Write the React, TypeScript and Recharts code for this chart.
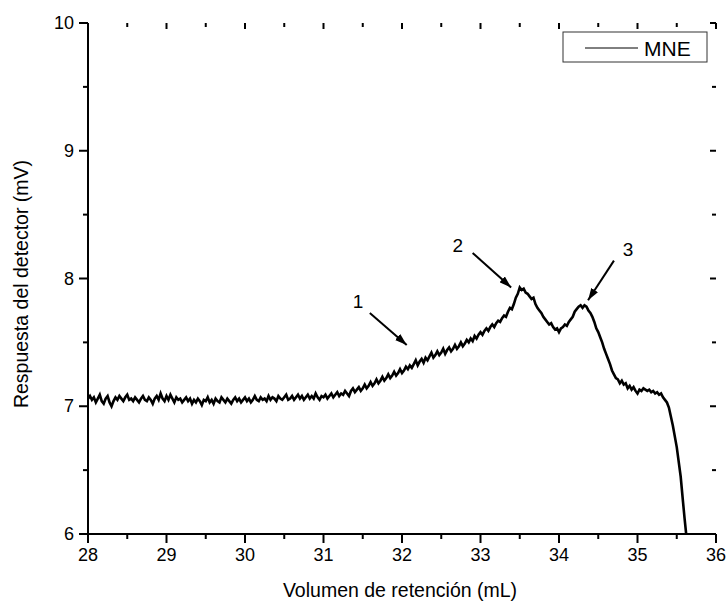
import React from 'react';
import {
  LineChart,
  Line,
  XAxis,
  YAxis,
  ReferenceLine,
  ReferenceDot,
  Customized,
} from 'recharts';

const volumes = [
  28.0, 28.025, 28.05, 28.075, 28.1, 28.125, 28.15, 28.175, 28.2, 28.225,
  28.25, 28.275, 28.3, 28.325, 28.35, 28.375, 28.4, 28.425, 28.45, 28.475,
  28.5, 28.525, 28.55, 28.575, 28.6, 28.625, 28.65, 28.675, 28.7, 28.725,
  28.75, 28.775, 28.8, 28.825, 28.85, 28.875, 28.9, 28.925, 28.95, 28.975,
  29.0, 29.025, 29.05, 29.075, 29.1, 29.125, 29.15, 29.175, 29.2, 29.225,
  29.25, 29.275, 29.3, 29.325, 29.35, 29.375, 29.4, 29.425, 29.45, 29.475,
  29.5, 29.525, 29.55, 29.575, 29.6, 29.625, 29.65, 29.675, 29.7, 29.725,
  29.75, 29.775, 29.8, 29.825, 29.85, 29.875, 29.9, 29.925, 29.95, 29.975,
  30.0, 30.025, 30.05, 30.075, 30.1, 30.125, 30.15, 30.175, 30.2, 30.225,
  30.25, 30.275, 30.3, 30.325, 30.35, 30.375, 30.4, 30.425, 30.45, 30.475,
  30.5, 30.525, 30.55, 30.575, 30.6, 30.625, 30.65, 30.675, 30.7, 30.725,
  30.75, 30.775, 30.8, 30.825, 30.85, 30.875, 30.9, 30.925, 30.95, 30.975,
  31.0, 31.025, 31.05, 31.075, 31.1, 31.125, 31.15, 31.175, 31.2, 31.225,
  31.25, 31.275, 31.3, 31.325, 31.35, 31.375, 31.4, 31.425, 31.45, 31.475,
  31.5, 31.525, 31.55, 31.575, 31.6, 31.625, 31.65, 31.675, 31.7, 31.725,
  31.75, 31.775, 31.8, 31.825, 31.85, 31.875, 31.9, 31.925, 31.95, 31.975,
  32.0, 32.025, 32.05, 32.075, 32.1, 32.125, 32.15, 32.175, 32.2, 32.225,
  32.25, 32.275, 32.3, 32.325, 32.35, 32.375, 32.4, 32.425, 32.45, 32.475,
  32.5, 32.525, 32.55, 32.575, 32.6, 32.625, 32.65, 32.675, 32.7, 32.725,
  32.75, 32.775, 32.8, 32.825, 32.85, 32.875, 32.9, 32.925, 32.95, 32.975,
  33.0, 33.025, 33.05, 33.075, 33.1, 33.125, 33.15, 33.175, 33.2, 33.225,
  33.25, 33.275, 33.3, 33.325, 33.35, 33.375, 33.4, 33.425, 33.45, 33.475,
  33.5, 33.525, 33.55, 33.575, 33.6, 33.625, 33.65, 33.675, 33.7, 33.725,
  33.75, 33.775, 33.8, 33.825, 33.85, 33.875, 33.9, 33.925, 33.95, 33.975,
  34.0, 34.025, 34.05, 34.075, 34.1, 34.125, 34.15, 34.175, 34.2, 34.225,
  34.25, 34.275, 34.3, 34.325, 34.35, 34.375, 34.4, 34.425, 34.45, 34.475,
  34.5, 34.525, 34.55, 34.575, 34.6, 34.625, 34.65, 34.675, 34.7, 34.725,
  34.75, 34.775, 34.8, 34.825, 34.85, 34.875, 34.9, 34.925, 34.95, 34.975,
  35.0, 35.025, 35.05, 35.075, 35.1, 35.125, 35.15, 35.175, 35.2, 35.225,
  35.25, 35.275, 35.3, 35.325, 35.35, 35.375, 35.4, 35.45, 35.5, 35.55,
  35.58, 35.6, 35.62,
];

const response = [
  7.06, 7.08, 7.05, 7.07, 7.03, 7.06, 7.09, 7.04, 7.02, 7.06,
  7.08, 7.03, 7.0, 7.04, 7.07, 7.05, 7.08, 7.06, 7.04, 7.07,
  7.09, 7.05, 7.06, 7.04, 7.07, 7.05, 7.03, 7.06, 7.08, 7.05,
  7.04, 7.07, 7.05, 7.02, 7.06, 7.08, 7.05, 7.1, 7.06, 7.04,
  7.08, 7.05, 7.09, 7.06, 7.03, 7.07, 7.05, 7.06, 7.03, 7.05,
  7.07, 7.04, 7.06, 7.02, 7.05, 7.03, 7.06, 7.04, 7.01, 7.05,
  7.04, 7.07, 7.03, 7.05, 7.02, 7.06, 7.04, 7.03, 7.07, 7.05,
  7.03, 7.06, 7.04, 7.02, 7.05, 7.07, 7.04, 7.06, 7.03, 7.05,
  7.07, 7.04, 7.06, 7.03, 7.05, 7.08, 7.05, 7.04, 7.07, 7.05,
  7.06, 7.04, 7.08, 7.05, 7.07, 7.06, 7.04, 7.08, 7.06, 7.05,
  7.07, 7.09, 7.05, 7.06, 7.08, 7.05, 7.07, 7.09, 7.06, 7.08,
  7.05, 7.07, 7.09, 7.06, 7.08, 7.06, 7.1, 7.07, 7.05, 7.08,
  7.07, 7.09, 7.06, 7.08, 7.1, 7.07, 7.09, 7.11, 7.08, 7.1,
  7.09, 7.12, 7.1, 7.08, 7.12, 7.14, 7.11, 7.13, 7.15, 7.12,
  7.14, 7.17, 7.14, 7.16, 7.19, 7.16, 7.18, 7.21, 7.18, 7.2,
  7.23, 7.2, 7.22, 7.25, 7.22, 7.24, 7.27, 7.24, 7.26, 7.29,
  7.26, 7.28, 7.31, 7.29, 7.32, 7.3, 7.33, 7.36, 7.32, 7.35,
  7.37, 7.34, 7.38, 7.36, 7.39, 7.42, 7.38, 7.4, 7.43, 7.4,
  7.42, 7.45, 7.41, 7.44, 7.46, 7.43, 7.45, 7.48, 7.45, 7.47,
  7.5, 7.47, 7.49, 7.52, 7.5, 7.53, 7.51, 7.55, 7.53, 7.56,
  7.58, 7.56, 7.59, 7.61, 7.59, 7.62, 7.64, 7.62, 7.65, 7.67,
  7.66, 7.69, 7.71, 7.7, 7.74, 7.77, 7.76, 7.8, 7.85, 7.88,
  7.93, 7.91, 7.92, 7.89, 7.88, 7.86, 7.84, 7.85, 7.8, 7.77,
  7.75, 7.73, 7.7, 7.68, 7.66, 7.64, 7.65, 7.62, 7.6, 7.61,
  7.58, 7.61, 7.62, 7.64, 7.63, 7.66, 7.68, 7.7, 7.74, 7.76,
  7.78, 7.79, 7.77, 7.79, 7.78, 7.75, 7.73, 7.7, 7.66, 7.61,
  7.58, 7.54, 7.5, 7.45, 7.41, 7.37, 7.33, 7.28, 7.25, 7.22,
  7.21, 7.18, 7.2, 7.17, 7.18, 7.14, 7.16, 7.13, 7.15, 7.12,
  7.1, 7.13, 7.12, 7.14, 7.13, 7.12, 7.13, 7.11, 7.12, 7.1,
  7.11, 7.09, 7.1, 7.07, 7.05, 7.03, 6.99, 6.85, 6.68, 6.45,
  6.25, 6.12, 6.0,
];

const xTicks = [28, 28.5, 29, 29.5, 30, 30.5, 31, 31.5, 32, 32.5, 33, 33.5, 34, 34.5, 35, 35.5, 36];
const yTicks = [6, 6.5, 7, 7.5, 8, 8.5, 9, 9.5, 10];

const seriesName = 'MNE';
const xLabel = 'Volumen de retención (mL)';
const yLabel = 'Respuesta del detector (mV)';

const annotations = [
  { label: '1', tx: 31.44, ty: 7.82, x1: 31.59, y1: 7.73, x2: 32.06, y2: 7.48 },
  { label: '2', tx: 32.71, ty: 8.26, x1: 32.9, y1: 8.2, x2: 33.39, y2: 7.93 },
  { label: '3', tx: 34.88, ty: 8.23, x1: 34.7, y1: 8.14, x2: 34.37, y2: 7.83 },
];

const data = volumes.map((v, i) => ({ v, r: response[i] }));

const FONT = '"Liberation Sans", Arial, sans-serif';
const axisLineStyle = { stroke: '#000', strokeWidth: 2 };

const CHART_W = 728;
const CHART_H = 607;
const MARGIN = { top: 23, right: 12, left: 28, bottom: 43 };
const Y_AXIS_W = 60;
const X_AXIS_H = 30;
const PLOT_L = MARGIN.left + Y_AXIS_W;
const PLOT_R = CHART_W - MARGIN.right;
const PLOT_T = MARGIN.top;
const PLOT_B = CHART_H - MARGIN.bottom - X_AXIS_H;
const X_DOMAIN = [28, 36];
const Y_DOMAIN = [6, 10];
const xPix = (v: number) => PLOT_L + ((v - X_DOMAIN[0]) / (X_DOMAIN[1] - X_DOMAIN[0])) * (PLOT_R - PLOT_L);
const yPix = (v: number) => PLOT_B - ((v - Y_DOMAIN[0]) / (Y_DOMAIN[1] - Y_DOMAIN[0])) * (PLOT_B - PLOT_T);

const xTickShape = (value: number) => (p: any) => {
  const x = Number(p.x1);
  const top = Math.min(Number(p.y1), Number(p.y2));
  const bottom = Math.max(Number(p.y1), Number(p.y2));
  const major = Number.isInteger(value);
  const inLen = major ? 6 : 4;
  return (
    <g>
      <line x1={x} x2={x} y1={top} y2={top + inLen} stroke="#000" strokeWidth={2} />
      {major ? (
        <text x={x} y={bottom + 27} textAnchor="middle" fontSize={18} fontFamily={FONT} fill="#000" stroke="none">
          {value}
        </text>
      ) : null}
    </g>
  );
};

const yTickShape = (value: number) => (p: any) => {
  const y = Number(p.y1);
  const left = Math.min(Number(p.x1), Number(p.x2));
  const right = Math.max(Number(p.x1), Number(p.x2));
  const major = Number.isInteger(value);
  const inLen = major ? 6 : 4;
  return (
    <g>
      <line x1={right} x2={right - inLen} y1={y} y2={y} stroke="#000" strokeWidth={2} />
      {major ? (
        <text x={left - 14} y={y + 6} textAnchor="end" fontSize={18} fontFamily={FONT} fill="#000" stroke="none">
          {value}
        </text>
      ) : null}
    </g>
  );
};

const Decorations = () => (
  <g>
    {xTicks.map((v) => {
      const major = Number.isInteger(v);
      const x = xPix(v);
      return (
        <line key={'ob' + v} x1={x} x2={x} y1={PLOT_B} y2={PLOT_B + (major ? 9 : 5)} stroke="#000" strokeWidth={2} />
      );
    })}
    {yTicks.map((v) => {
      const major = Number.isInteger(v);
      const y = yPix(v);
      return (
        <line key={'ol' + v} x1={PLOT_L} x2={PLOT_L - (major ? 9 : 5)} y1={y} y2={y} stroke="#000" strokeWidth={2} />
      );
    })}
    <rect x={563} y={32} width={144} height={30} fill="#fff" stroke="#333" strokeWidth={1} />
    <line x1={585} x2={638} y1={48} y2={48} stroke="#000" strokeWidth={1} />
    <text x={644} y={56} fontSize={21} fontFamily={FONT} fill="#000">
      {seriesName}
    </text>
    <text x={400} y={597} textAnchor="middle" fontSize={19.5} fontFamily={FONT} fill="#000">
      {xLabel}
    </text>
    <text
      x={28}
      y={284}
      textAnchor="middle"
      fontSize={19.5}
      fontFamily={FONT}
      fill="#000"
      transform="rotate(-90 28 284)"
    >
      {yLabel}
    </text>
  </g>
);

export default function App() {
  return (
    <div style={{ position: 'absolute', left: 0, top: 0, width: CHART_W, height: CHART_H, background: '#fff' }}>
      <svg width={0} height={0} style={{ position: 'absolute' }}>
        <defs>
          <marker
            id="arrowHead"
            viewBox="0 0 12 8"
            refX={12}
            refY={4}
            markerWidth={12}
            markerHeight={8}
            markerUnits="userSpaceOnUse"
            orient="auto"
          >
            <path d="M0,0 L12,4 L0,8 z" fill="#000" />
          </marker>
        </defs>
      </svg>
      <LineChart
        width={CHART_W}
        height={CHART_H}
        data={data}
        margin={MARGIN}
        style={{ overflow: 'visible' }}
      >
        <XAxis
          dataKey="v"
          type="number"
          domain={X_DOMAIN}
          ticks={xTicks}
          interval={0}
          allowDataOverflow
          height={X_AXIS_H}
          tick={false}
          tickLine={false}
          axisLine={axisLineStyle}
        />
        <XAxis
          xAxisId="top"
          orientation="top"
          type="number"
          domain={X_DOMAIN}
          height={0}
          tick={false}
          tickLine={false}
          axisLine={axisLineStyle}
        />
        <YAxis
          type="number"
          domain={Y_DOMAIN}
          ticks={yTicks}
          interval={0}
          allowDataOverflow
          width={Y_AXIS_W}
          tick={false}
          tickLine={false}
          axisLine={axisLineStyle}
        />
        <YAxis
          yAxisId="right"
          orientation="right"
          type="number"
          domain={Y_DOMAIN}
          width={0}
          tick={false}
          tickLine={false}
          axisLine={axisLineStyle}
        />
        <Line
          dataKey="r"
          type="linear"
          stroke="#000"
          strokeWidth={2.6}
          dot={false}
          isAnimationActive={false}
        />
        {annotations.map((a) => (
          <ReferenceLine
            key={'l' + a.label}
            segment={[
              { x: a.x1, y: a.y1 },
              { x: a.x2, y: a.y2 },
            ]}
            stroke="#000"
            strokeWidth={2}
            markerEnd="url(#arrowHead)"
          />
        ))}
        {annotations.map((a) => (
          <ReferenceDot
            key={'t' + a.label}
            x={a.tx}
            y={a.ty}
            r={0}
            fill="none"
            stroke="none"
            label={{ value: a.label, position: 'center', fontSize: 19, fontFamily: FONT, fill: '#000' }}
          />
        ))}
        {xTicks.map((v) => (
          <ReferenceLine key={'xt' + v} x={v} ifOverflow="visible" stroke="none" shape={xTickShape(v)} />
        ))}
        {yTicks.map((v) => (
          <ReferenceLine key={'yt' + v} y={v} ifOverflow="visible" stroke="none" shape={yTickShape(v)} />
        ))}
        <Customized component={<Decorations />} />
      </LineChart>
    </div>
  );
}
